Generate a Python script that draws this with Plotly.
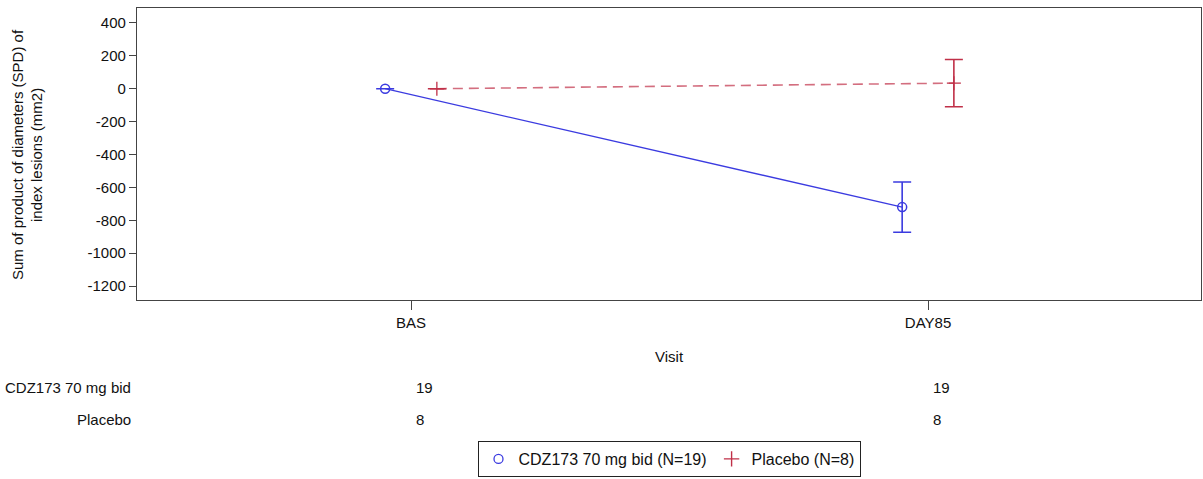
import plotly.graph_objects as go

# Visits and per-arm summary (change from baseline in SPD, mm2)
visits = ["BAS", "DAY85"]
visit_pos = [0, 1]

cdz_name = "CDZ173 70 mg bid (N=19)"
cdz_mean = [0, -720]
cdz_se = [0, 153]
cdz_n = [19, 19]

pbo_name = "Placebo (N=8)"
pbo_mean = [0, 34]
pbo_se = [0, 144]
pbo_n = [8, 8]

arm_labels = ["CDZ173 70 mg bid", "Placebo"]
y_ticks = list(range(-1200, 401, 200))

FONT = "Liberation Sans, Arial, sans-serif"
BLUE = "#3b3be0"
RED = "#c03048"
DODGE = 0.05

fig = go.Figure()

fig.add_trace(go.Scatter(
    x=[p - DODGE for p in visit_pos], y=cdz_mean, name=cdz_name,
    mode="lines+markers", showlegend=False,
    line=dict(color=BLUE, width=1.3),
    marker=dict(symbol="circle-open", size=9, color=BLUE, line=dict(width=1.5)),
    error_y=dict(type="data", array=cdz_se, color=BLUE, thickness=1.6, width=9),
))

fig.add_trace(go.Scatter(
    x=[p + DODGE for p in visit_pos], y=pbo_mean, name=pbo_name,
    mode="lines+markers", showlegend=False,
    line=dict(color="rgba(192,48,72,0.7)", width=1.6, dash="10px,6px"),
    marker=dict(symbol="cross-thin-open", size=10, color=RED, line=dict(width=1.3, color=RED)),
    error_y=dict(type="data", array=pbo_se, color=RED, thickness=1.6, width=9),
))

# Legend entries show the plotting symbol only
fig.add_trace(go.Scatter(
    x=[None], y=[None], name=cdz_name, mode="markers",
    marker=dict(symbol="circle-open", size=9, color=BLUE, line=dict(width=1.3)),
))
fig.add_trace(go.Scatter(
    x=[None], y=[None], name=pbo_name, mode="markers",
    marker=dict(symbol="cross-thin-open", size=11, color=RED, line=dict(width=1.4, color=RED)),
))

annotations = []
# Subjects-at-visit table below the axis
rows_y = [-0.298, -0.408]
for label, counts, yy in zip(arm_labels, [cdz_n, pbo_n], rows_y):
    annotations.append(dict(
        text=label, xref="paper", yref="paper", x=-0.004, y=yy,
        xanchor="right", yanchor="middle", showarrow=False,
        font=dict(family=FONT, size=15, color="#111")))
    for pos, n in zip(visit_pos, counts):
        annotations.append(dict(
            text=str(n), xref="x", yref="paper", x=pos, y=yy, xshift=3,
            xanchor="left", yanchor="middle", showarrow=False,
            font=dict(family=FONT, size=15, color="#111")))

annotations.append(dict(
    text="Visit", xref="paper", yref="paper", x=0.5, y=-0.195,
    xanchor="center", yanchor="middle", showarrow=False,
    font=dict(family=FONT, size=15, color="#111")))

annotations.append(dict(
    text="Sum of product of diameters (SPD) of<br>index lesions (mm2)",
    xref="paper", yref="paper", x=-0.1034, y=0.5, textangle=-90,
    xanchor="center", yanchor="middle", showarrow=False,
    font=dict(family=FONT, size=15, color="#111")))

fig.update_layout(
    width=1203, height=479,
    margin=dict(l=137, r=2, t=8, b=179, autoexpand=False),
    paper_bgcolor="white", plot_bgcolor="white",
    font=dict(family=FONT, size=15, color="#111"),
    showlegend=True,
    legend=dict(
        orientation="h", x=0.5, xanchor="center",
        yref="container", y=2 / 479, yanchor="bottom",
        bordercolor="#222", borderwidth=1, font=dict(family=FONT, size=16),
        itemwidth=30, tracegroupgap=0,
    ),
    annotations=annotations,
)

fig.update_xaxes(
    range=[-0.530, 1.528], tickvals=visit_pos, ticktext=visits,
    showgrid=False, zeroline=False, showline=True, linecolor="#444", linewidth=1.2,
    mirror=True, ticks="outside", ticklen=9, tickcolor="#444",
    tickfont=dict(family=FONT, size=15, color="#111"),
)
fig.update_yaxes(
    range=[-1285, 491], tickvals=y_ticks, ticktext=[str(v) for v in y_ticks],
    showgrid=False, zeroline=False, showline=True, linecolor="#444", linewidth=1.2,
    mirror=True, ticks="outside", ticklen=7, tickcolor="#444",
    tickfont=dict(family=FONT, size=15, color="#111"),
)

fig.write_html("out.html")
